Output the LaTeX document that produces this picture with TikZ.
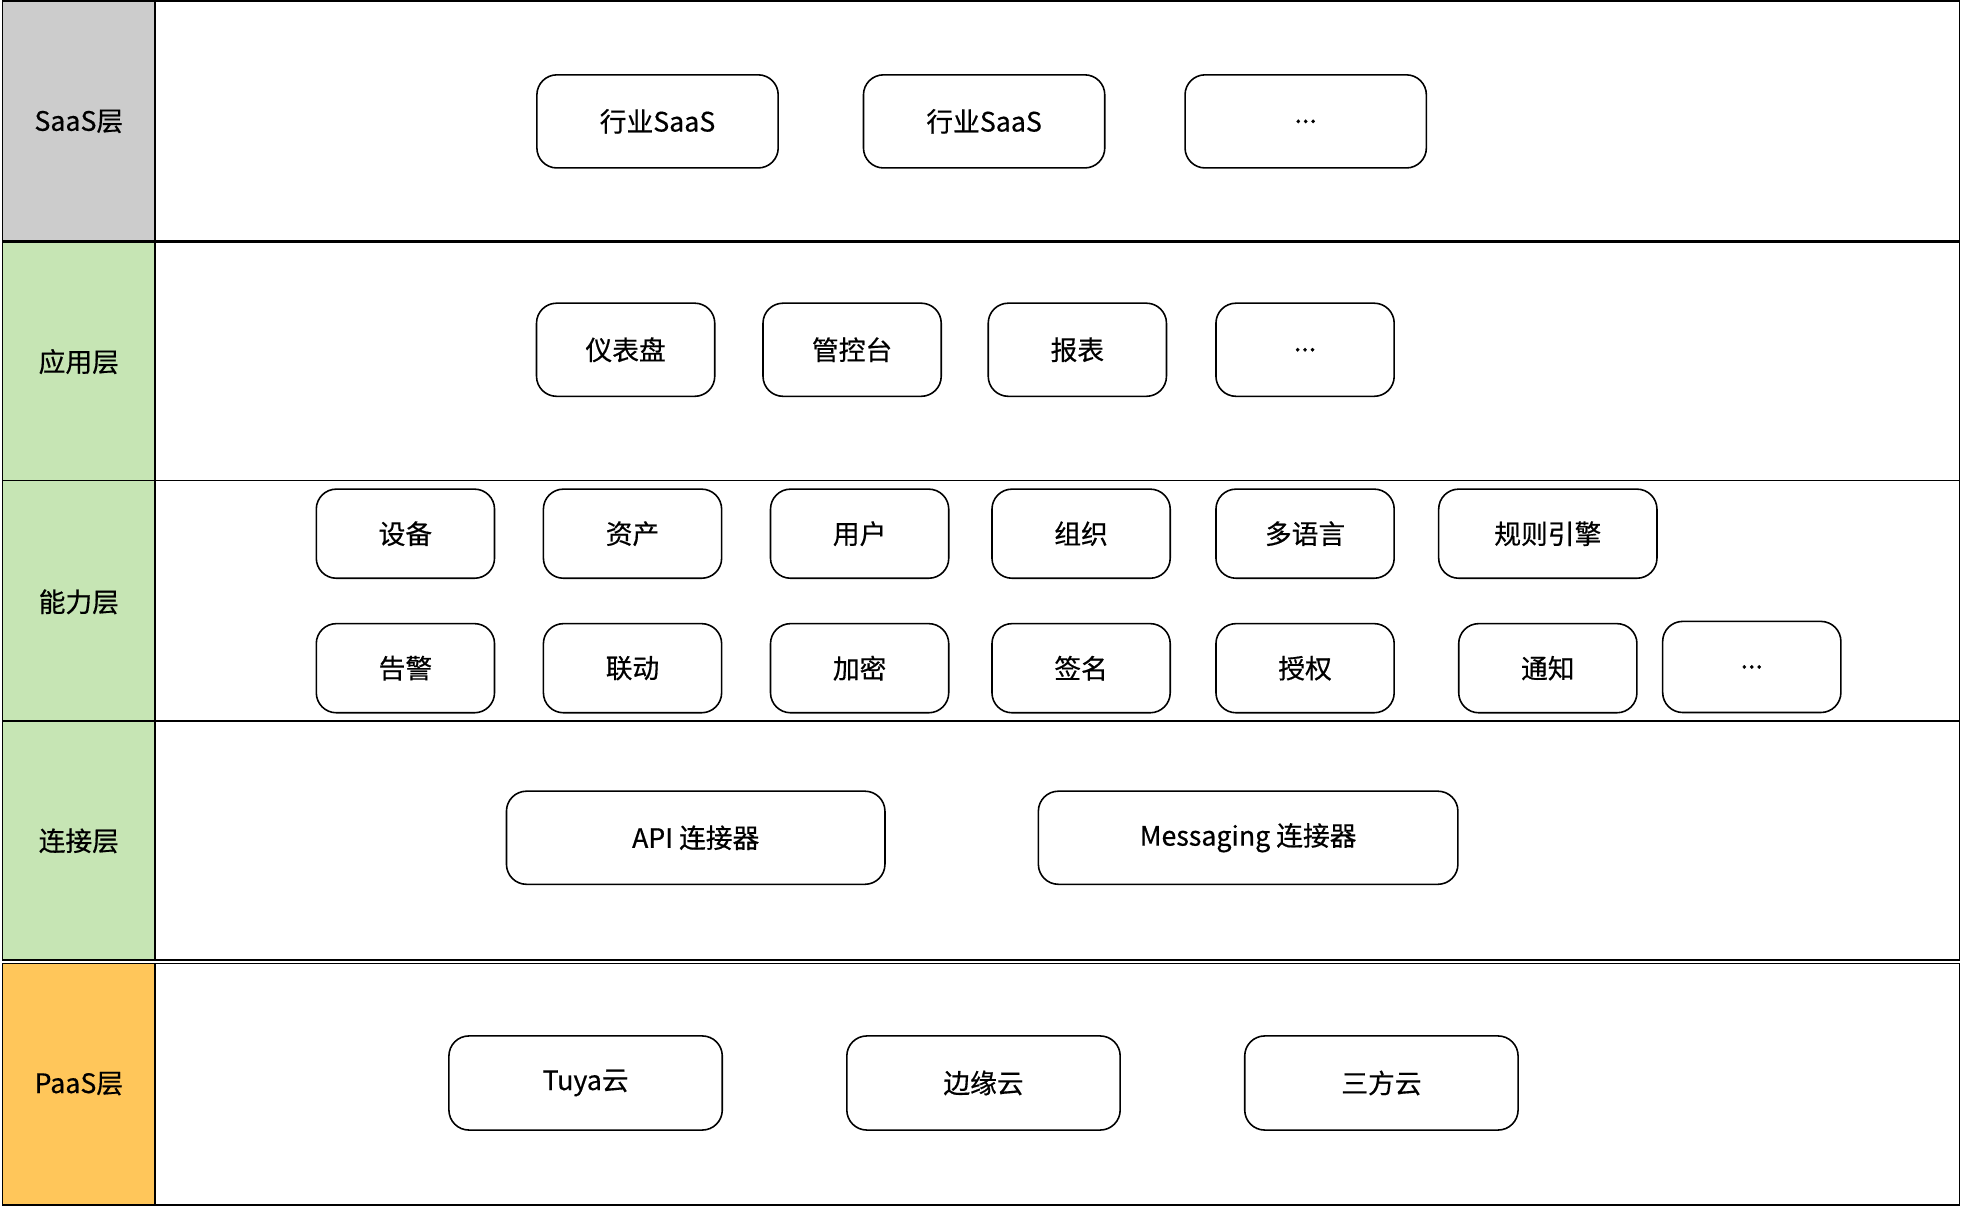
\documentclass[tikz,border=0pt]{standalone}
\usepackage{fontspec}
\setmainfont{Noto Sans CJK SC}[FakeBold=0.5]
\definecolor{saasgray}{RGB}{204,204,204}
\definecolor{layergreen}{RGB}{198,229,180}
\definecolor{paasorange}{RGB}{255,198,90}

\begin{document}
\begin{tikzpicture}[
    x = 0.0125cm, y = -0.0125cm,
    line width = 0.5pt,
    every node/.style = {font = \fontsize{7.6}{9}\selectfont},
    box/.style = {draw, line width = 0.45pt, rounded corners = 0.2cm,
                  minimum width = 1.78cm, minimum height = 0.93cm, inner sep = 0pt},
    wide/.style = {box, minimum width = 2.41cm},
    cloud/.style = {box, minimum width = 2.73cm, minimum height = 0.94cm},
    small/.style = {box, minimum height = 0.89cm}]

\useasboundingbox (0,0) rectangle (1568,965.4);

% layers
\draw[fill = saasgray] (2,1) rectangle (124,192.5);
\draw (124,1) rectangle (1566,192.5);
\draw[fill = layergreen] (2,193.8) rectangle (124,767);
\draw (124,193.8) rectangle (1566,767)
      (2,384) -- (1566,384)
      (2,576) -- (1566,576);
\draw[fill = paasorange] (2,770) rectangle (124,963);
\draw (124,770) rectangle (1566,963);

\path (63,97) node(saas) {SaaS层}
      (63,289) node(app) {应用层}
      (63,481) node(ability) {能力层}
      (63,672) node(conn) {连接层}
      (63,866) node(paas) {PaaS层}
      ;

% SaaS
\path (525.5,97) node[wide](saasone) {行业SaaS}
      (786.5,97) node[wide](saastwo) {行业SaaS}
      (1043.5,97) node[wide](saasmore) {...}
      ;
% apps
\path (500,279.5) node[box](dashboard) {仪表盘}
      (681,279.5) node[box](console) {管控台}
      (861,279.5) node[box](report) {报表}
      (1043,279.5) node[box](appmore) {...}
      ;
% abilities
\path (324,426.5) node[small](device) {设备}
      (505.5,426.5) node[small](asset) {资产}
      (687,426.5) node[small](user) {用户}
      (864,426.5) node[small](org) {组织}
      (1043,426.5) node[small](lang) {多语言}
      (1237,426.5) node[small, minimum width = 2.18cm](rule) {规则引擎}
      (324,534) node[small](alarm) {告警}
      (505.5,534) node[small](linkage) {联动}
      (687,534) node[small](crypt) {加密}
      (864,534) node[small](sign) {签名}
      (1043,534) node[small](auth) {授权}
      (1237,534) node[small](notify) {通知}
      (1400,533) node[small, minimum height = 0.91cm](abilitymore) {...}
      ;
% connectors
\path (556,669.5) node[box, minimum width = 3.78cm](api) {API 连接器}
      (997.5,669.5) node[box, minimum width = 4.19cm](msg) {Messaging 连接器}
      ;
% clouds
\path (468,865.5) node[cloud](tuya) {Tuya云}
      (786,865.5) node[cloud](edge) {边缘云}
      (1104,865.5) node[cloud](third) {三方云}
      ;
\end{tikzpicture}
\end{document}
